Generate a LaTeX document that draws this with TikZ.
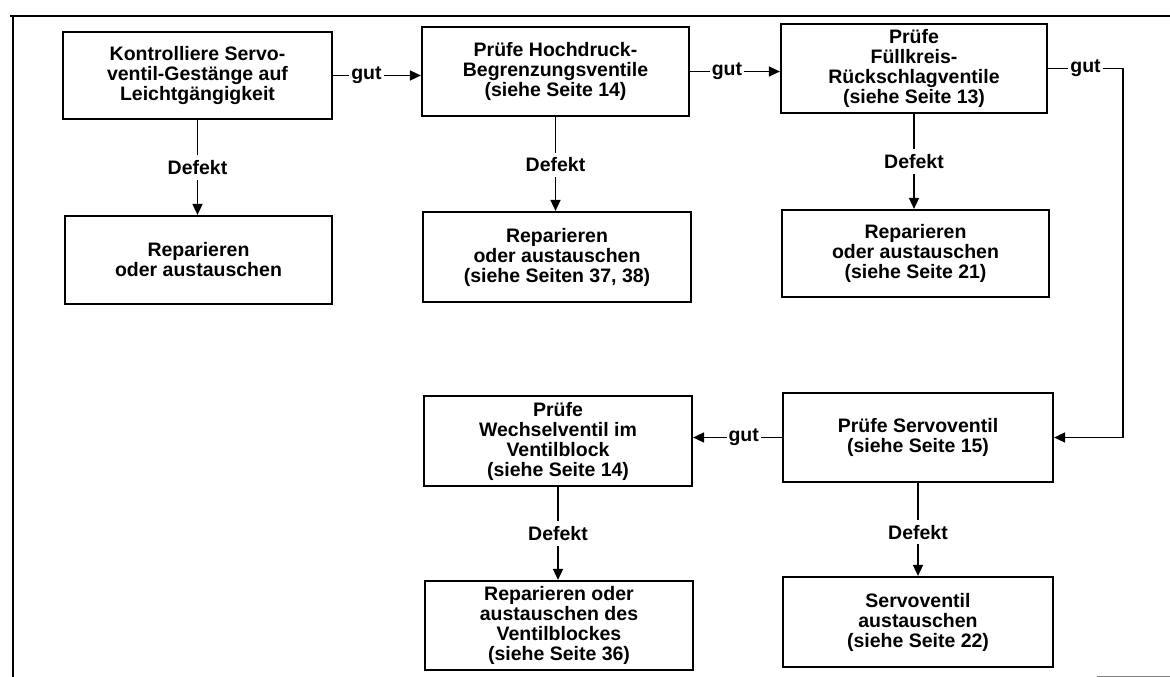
\documentclass[tikz,border=0pt]{standalone}
\usepackage{fontspec}
\setmainfont{Liberation Sans}
\usetikzlibrary{arrows.meta}
\begin{document}
\begin{tikzpicture}[x=1pt,y=-1pt,
  box/.style={draw, line width=2.2pt, align=center, inner sep=0pt,
    font=\fontsize{19.5}{20}\selectfont\bfseries},
  conn/.style={line width=1.6pt, -{Triangle[length=11pt,width=10pt]}},
  lbl/.style={fill=white, inner xsep=2pt, inner ysep=5pt,
    font=\fontsize{19.5}{20}\selectfont\bfseries}]
\useasboundingbox (0,0) rectangle (1170,677);
% frame
\draw[line width=2.8pt] (10,16) -- (1170,16);
\draw[line width=2.8pt] (13,16) -- (13,677);
\draw[line width=0.8pt, gray] (1097,676) -- (1170,676);
% boxes
\node[box, minimum width=269pt, minimum height=87pt] (a1) at (197.5,75.5)
  {Kontrolliere Servo-\\ventil-Gestänge auf\\Leichtgängigkeit};
\node[box, minimum width=267pt, minimum height=88pt] (a2) at (198.5,260)
  {Reparieren\\oder austauschen};
\node[box, minimum width=267pt, minimum height=89pt] (b1) at (555.5,71.5)
  {Prüfe Hochdruck-\\Begrenzungsventile\\(siehe Seite 14)};
\node[box, minimum width=268pt, minimum height=90pt] (b2) at (557,257)
  {Reparieren\\oder austauschen\\(siehe Seiten 37, 38)};
\node[box, minimum width=266pt, minimum height=89pt] (c1) at (914,68.5)
  {Prüfe\\Füllkreis-\\Rückschlagventile\\(siehe Seite 13)};
\node[box, minimum width=267pt, minimum height=87pt] (c2) at (915.5,253.5)
  {Reparieren\\oder austauschen\\(siehe Seite 21)};
\node[box, minimum width=270pt, minimum height=89pt] (d1) at (918,437.5)
  {Prüfe Servoventil\\(siehe Seite 15)};
\node[box, minimum width=270pt, minimum height=90pt] (d2) at (918,622)
  {Servoventil\\austauschen\\(siehe Seite 22)};
\node[box, minimum width=268pt, minimum height=90pt] (e1) at (558,441)
  {Prüfe\\Wechselventil im\\Ventilblock\\(siehe Seite 14)};
\node[box, minimum width=268pt, minimum height=89pt] (e2) at (559,625.5)
  {Reparieren oder\\austauschen des\\Ventilblockes\\(siehe Seite 36)};
% gut connectors
\draw[conn] (a1.east) -- node[lbl, pos=0.38]{gut} (a1.east -| b1.west);
\draw[conn] (b1.east) -- node[lbl, pos=0.41]{gut} (b1.east -| c1.west);
\coordinate (cr) at (1123,68);
\draw[conn] (c1.east) -- node[lbl]{gut} (c1.east -| cr) |- (d1.east);
\draw[conn] (d1.west) -- node[lbl, pos=0.43]{gut} (d1.west -| e1.east);
% Defekt connectors
\draw[conn] (a1.south) -- node[lbl]{Defekt} (a1.south |- a2.north);
\draw[conn] (b1.south) -- node[lbl, pos=0.51]{Defekt} (b1.south |- b2.north);
\draw[conn] (c1.south) -- node[lbl]{Defekt} (c1.south |- c2.north);
\draw[conn] (d1.south) -- node[lbl, pos=0.53]{Defekt} (d1.south |- d2.north);
\draw[conn] (e1.south) -- node[lbl]{Defekt} (e1.south |- e2.north);
\end{tikzpicture}
\end{document}
